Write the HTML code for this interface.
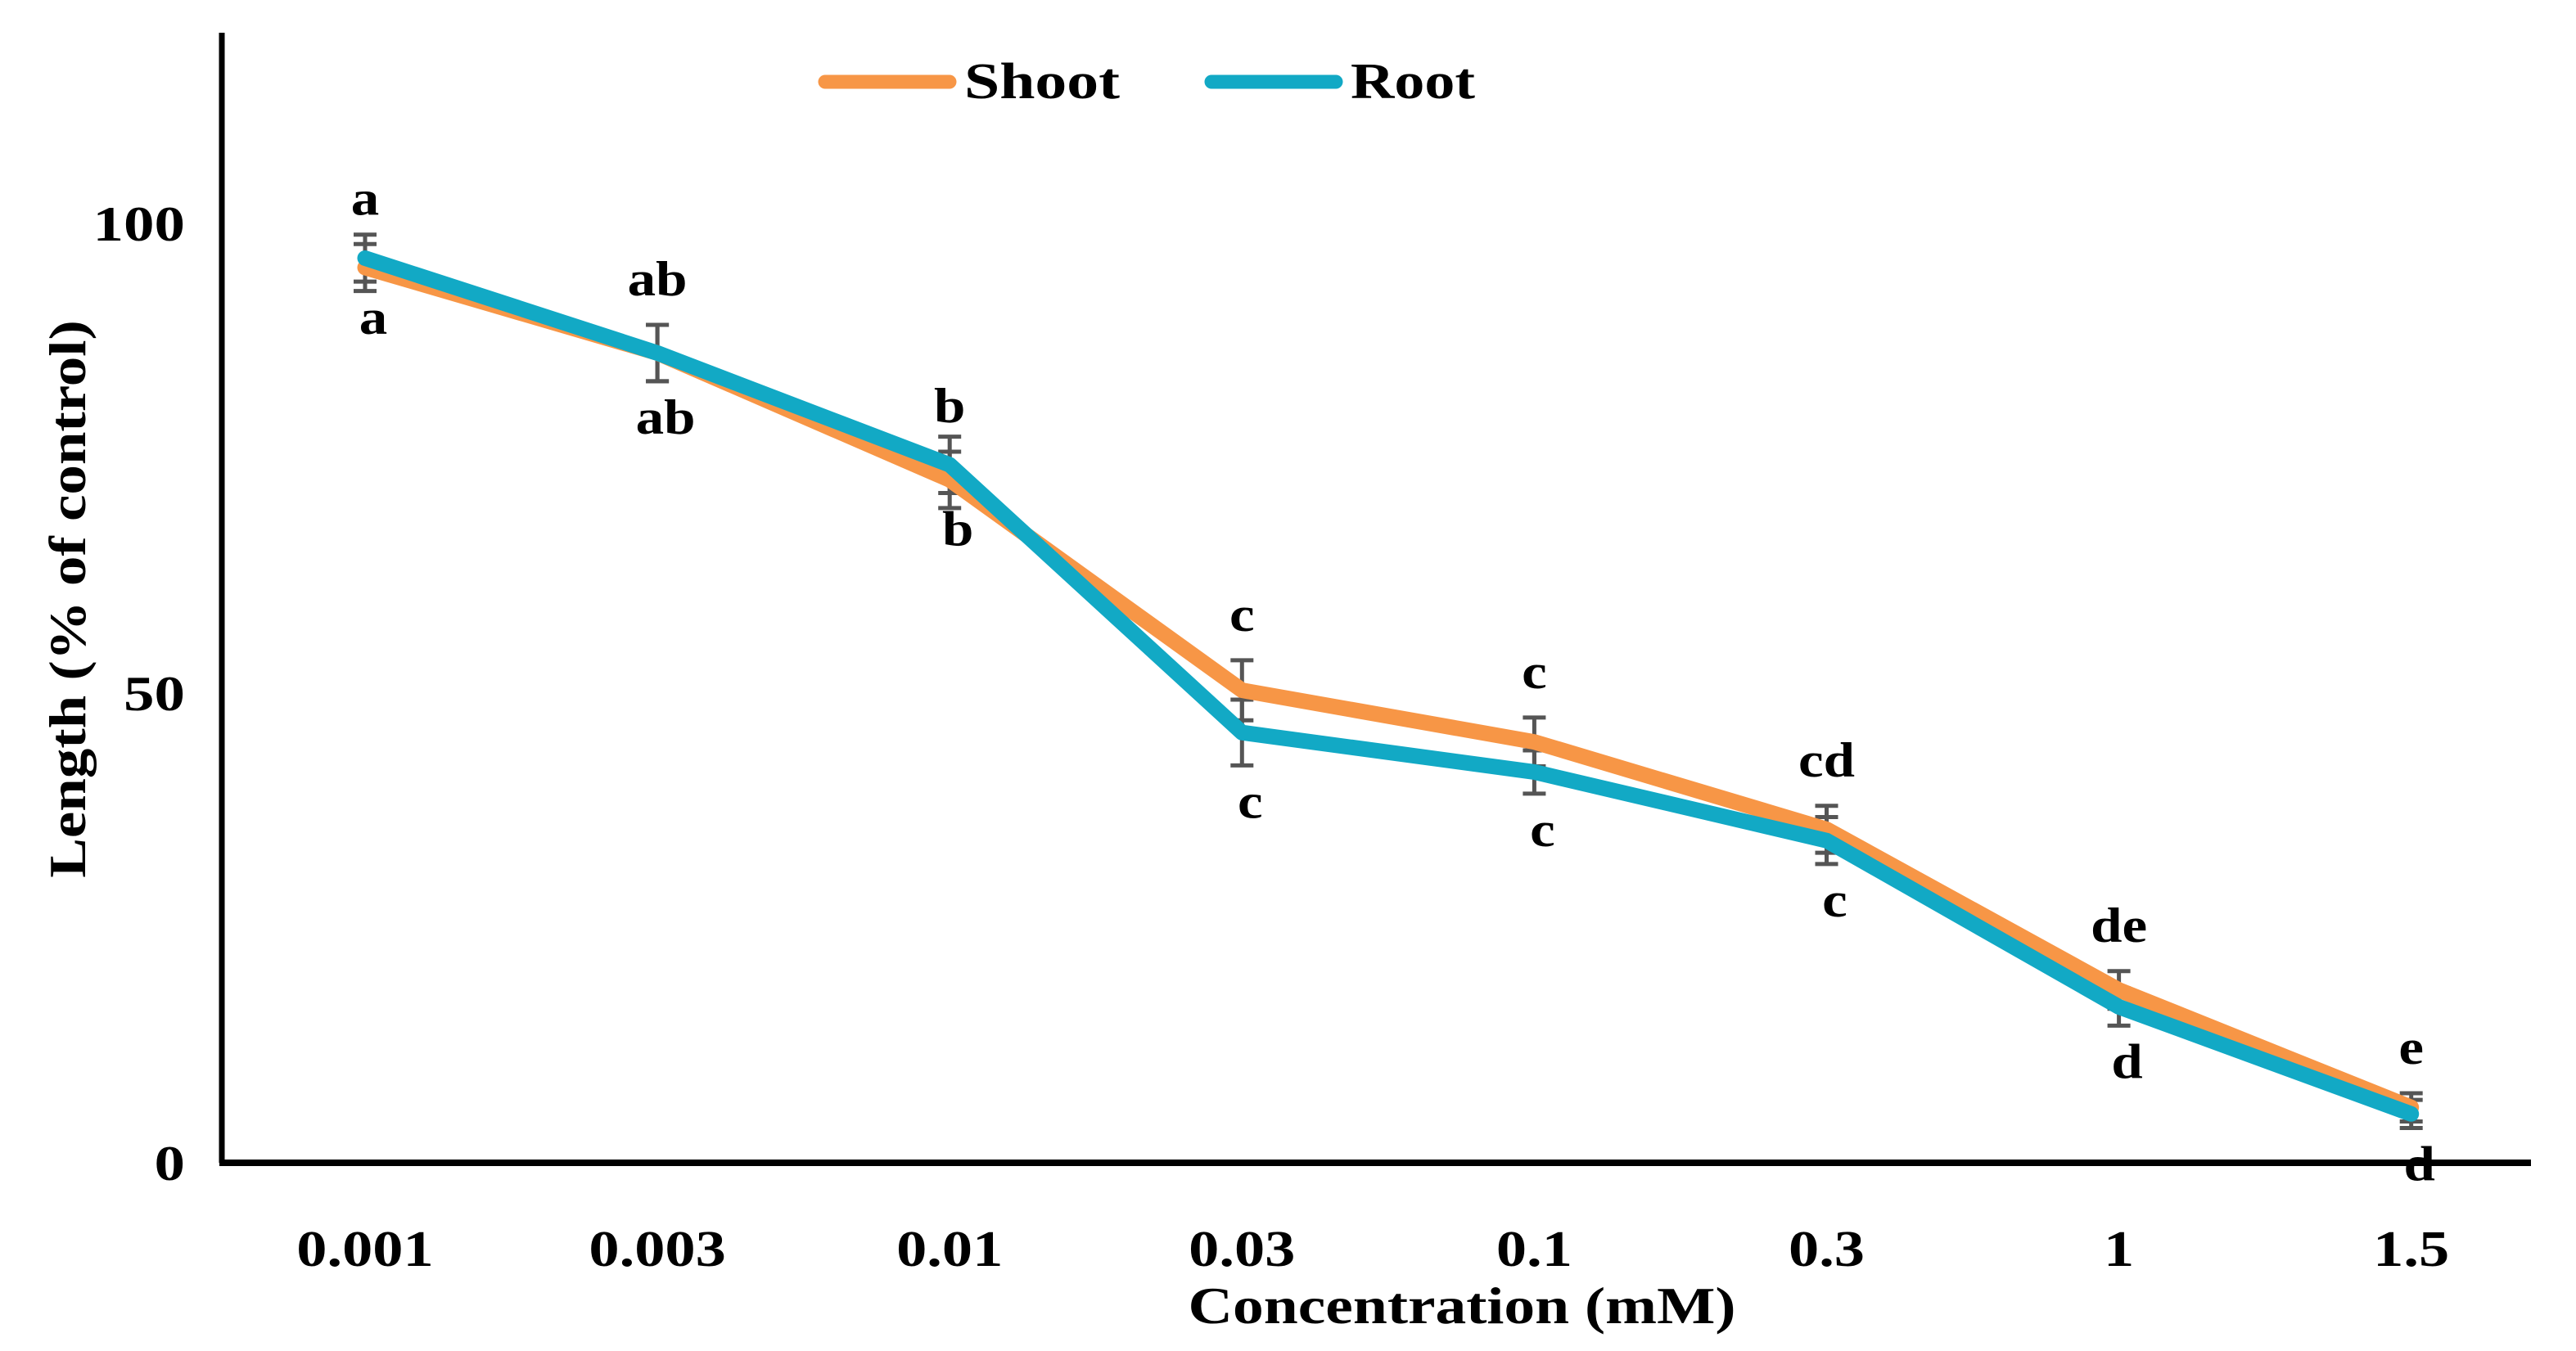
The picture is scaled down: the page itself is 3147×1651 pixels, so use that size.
<!DOCTYPE html>
<html><head><meta charset="utf-8"><style>
html,body{margin:0;padding:0;background:#fff;}
svg{display:block;font-family:"Liberation Serif",serif;font-weight:bold;}
</style></head><body>
<svg id="chart" width="3147" height="1651" viewBox="0 0 3147 1651" xmlns="http://www.w3.org/2000/svg">
<rect width="3147" height="1651" fill="#fff"/>
<g id="plot"></g>
</svg>
<script>
const categories = ["0.001","0.003","0.01","0.03","0.1","0.3","1","1.5"];
const shootValues = [95.3, 86.2, 72.7, 50.3, 44.8, 35.5, 18.4, 5.9];
const rootValues = [96.3, 86.2, 74.3, 45.8, 41.6, 34.3, 16.6, 5.2];
const shootErrors = [2.5, 3.0, 3.0, 3.2, 2.6, 2.5, 2.0, 1.5];
const rootErrors = [2.5, 3.0, 3.0, 3.5, 2.3, 2.5, 2.0, 1.5];
const shootLetters = ["a","ab","b","c","c","cd","de","e"];
const rootLetters = ["a","ab","b","c","c","c","d","d"];
const yTicks = [0, 50, 100];

const NS = "http://www.w3.org/2000/svg";
const g = document.getElementById('plot');
const X0 = 271, YB = 1421, Y100 = 273, XSTART = 446, XSTEP = 357.1;
function xScale(i){ return XSTART + i * XSTEP; }
function yScale(v){ return YB - (YB - Y100) * v / 100; }
function mk(tag, attrs, parent){
  const e = document.createElementNS(NS, tag);
  for (const k in attrs) e.setAttribute(k, attrs[k]);
  (parent || g).appendChild(e);
  return e;
}
function widen(el, f){
  const w = el.getComputedTextLength();
  el.setAttribute('textLength', (w * f).toFixed(1));
  el.setAttribute('lengthAdjust', 'spacingAndGlyphs');
}

let e = mk('line', {x1:X0, y1:40, x2:X0, y2:YB, stroke:'#000', 'stroke-width':7});


e = mk('line', {x1:X0-3, y1:YB, x2:3092, y2:YB, stroke:'#000', 'stroke-width':8});



yTicks.forEach(t => {
  const el = mk('text', {x:226, y:yScale(t)+21, 'text-anchor':'end', 'font-size':60, fill:'#000'});
  el.textContent = t;
  
  
  widen(el, 1.25);
});
categories.forEach((c, i) => {
  const el = mk('text', {x:xScale(i), y:1547, 'text-anchor':'middle', 'font-size':62, fill:'#000'});
  el.textContent = c;
  
  
  widen(el, 1.2);
});

e = mk('text', {x:1786, y:1617, 'text-anchor':'middle', 'font-size':64, fill:'#000'});
e.textContent = 'Concentration (mM)';


widen(e, 1.18);
e = mk('text', {x:0, y:0, 'text-anchor':'middle', 'font-size':64, fill:'#000', transform:'translate(104,732) rotate(-90)'});
e.textContent = 'Length (% of control)';


widen(e, 1.14);

function errBars(vals, errs, name){
  vals.forEach((v, i) => {
    const x = xScale(i), yt = yScale(v + errs[i]), yb = yScale(v - errs[i]);
    const grp = mk('g', {stroke:'#555', 'stroke-width':5});
    
    
    mk('line', {x1:x, y1:yt, x2:x, y2:yb}, grp);
    mk('line', {x1:x-14, y1:yt, x2:x+14, y2:yt}, grp);
    mk('line', {x1:x-14, y1:yb, x2:x+14, y2:yb}, grp);
  });
}
errBars(shootValues, shootErrors, 'shoot-error-bar');
errBars(rootValues, rootErrors, 'root-error-bar');

function series(vals, color, name){
  const pts = vals.map((v, i) => xScale(i) + ',' + yScale(v)).join(' ');
  const el = mk('polyline', {points:pts, fill:'none', stroke:color, 'stroke-width':19, 'stroke-linejoin':'round', 'stroke-linecap':'round'});
  
  
}
series(shootValues, '#F79646', 'shoot-line');
series(rootValues, '#12A9C5', 'root-line');

shootLetters.forEach((l, i) => {
  const el = mk('text', {x:xScale(i), y:yScale(shootValues[i] + shootErrors[i]) - 36, 'text-anchor':'middle', 'font-size':60, fill:'#000'});
  el.textContent = l;
  
  
  widen(el, 1.15);
});
rootLetters.forEach((l, i) => {
  const el = mk('text', {x:xScale(i)+10, y:yScale(rootValues[i] - rootErrors[i]) + 64, 'text-anchor':'middle', 'font-size':60, fill:'#000'});
  el.textContent = l;
  
  
  widen(el, 1.15);
});

const leg = mk('g', {});


e = mk('line', {x1:1008, y1:100, x2:1160, y2:100, stroke:'#F79646', 'stroke-width':17, 'stroke-linecap':'round'}, leg);


e = mk('text', {x:1178, y:120, 'font-size':62, fill:'#000', textLength:190, lengthAdjust:'spacingAndGlyphs'}, leg);
e.textContent = 'Shoot';


e = mk('line', {x1:1480, y1:100, x2:1632, y2:100, stroke:'#12A9C5', 'stroke-width':17, 'stroke-linecap':'round'}, leg);


e = mk('text', {x:1650, y:120, 'font-size':62, fill:'#000', textLength:152, lengthAdjust:'spacingAndGlyphs'}, leg);
e.textContent = 'Root';


</script>
</body></html>
